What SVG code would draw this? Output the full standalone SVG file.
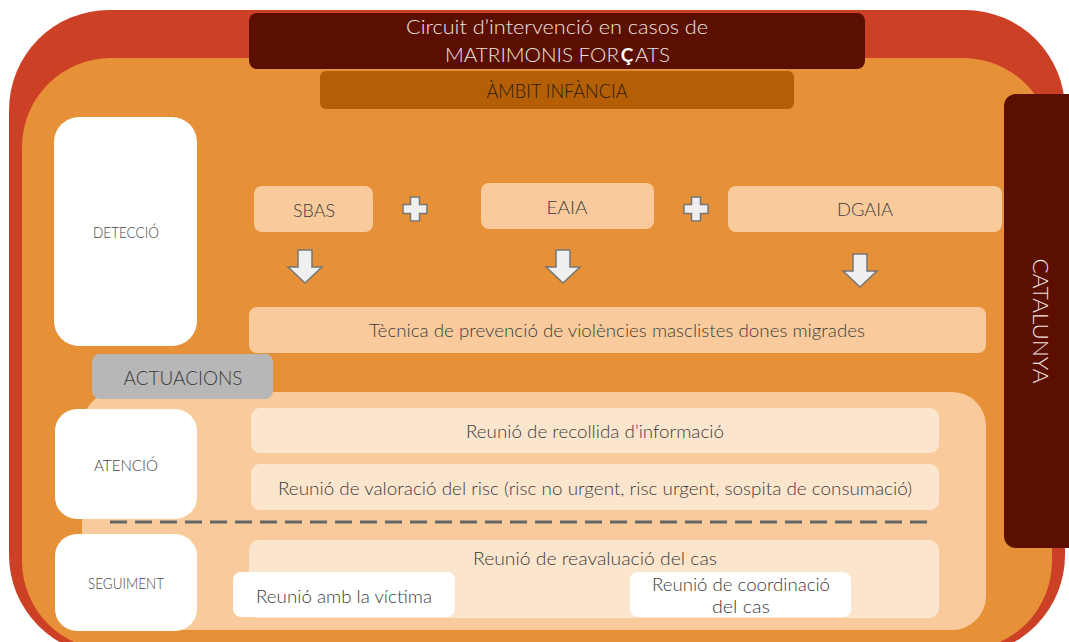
<svg xmlns="http://www.w3.org/2000/svg" width="1069" height="642" viewBox="0 0 1069 642">
<style>
text{font-family:"Lato","Open Sans","Liberation Sans",sans-serif;font-weight:300;fill:#3c3c3c;text-anchor:middle}
.lbl{fill:#444444}
.wt{fill:#eee4e0}
.st{text-anchor:start}
.en{text-anchor:end}
.peach{fill:#f9cb9c}
.light{fill:#fce5cd}
.white{fill:#ffffff}
.arrow{fill:#efefef;stroke:#757575;stroke-width:1.5;stroke-linejoin:miter}
</style>
<defs>
<path id="arr" d="M-7,0 H7 V17 H17 L0,33 L-17,17 H-7 Z"/>
<path id="plus" d="M-4.5,-12 H4.5 V-4.5 H12 V4.5 H4.5 V12 H-4.5 V4.5 H-12 V-4.5 H-4.5 Z"/>
</defs>

<g id="background">
<rect x="9" y="10" width="1056" height="645" rx="100" fill="#cc4125"/>
<rect x="22" y="58" width="1030" height="592" rx="89" fill="#e69138"/>
<rect x="82" y="392" width="904" height="238" rx="34" class="peach"/>
</g>

<g id="title">
<rect x="249" y="13" width="616" height="56" rx="8" fill="#5b0f00"/>
<text x="557" y="34" font-size="20" class="wt" textLength="302" lengthAdjust="spacingAndGlyphs">Circuit d’intervenció en casos de</text>
<text x="619" y="62" font-size="20" class="wt en" textLength="174" lengthAdjust="spacingAndGlyphs">MATRIMONIS FOR</text>
<text x="627" y="62" font-size="19" style="fill:#ffffff;font-weight:700">Ç</text>
<text x="635" y="62" font-size="20" class="wt st" textLength="35" lengthAdjust="spacingAndGlyphs">ATS</text>
</g>

<g id="ambit">
<rect x="320" y="71" width="474" height="38" rx="6" fill="#b45f06"/>
<text x="557" y="98" font-size="19" textLength="141" lengthAdjust="spacingAndGlyphs" style="fill:#2e1a08">ÀMBIT INFÀNCIA</text>
</g>

<g id="catalunya">
<rect x="1004" y="94" width="90" height="454" rx="12" fill="#5b0f00"/>
<text transform="translate(1033,321) rotate(90)" font-size="22" class="wt" textLength="125" lengthAdjust="spacingAndGlyphs">CATALUNYA</text>
</g>

<g id="deteccio">
<rect x="54" y="117" width="143" height="229" rx="25" class="white"/>
<text x="126" y="238" font-size="15" class="lbl" textLength="66" lengthAdjust="spacingAndGlyphs">DETECCIÓ</text>
</g>

<g id="sbas">
<rect x="254" y="186" width="119" height="46" rx="8" class="peach"/>
<text x="314" y="217" font-size="18" textLength="42" lengthAdjust="spacingAndGlyphs">SBAS</text>
</g>

<g id="eaia">
<rect x="481" y="183" width="173" height="46" rx="8" class="peach"/>
<text x="567" y="214" font-size="18" textLength="41" lengthAdjust="spacingAndGlyphs">EAIA</text>
</g>

<g id="dgaia">
<rect x="728" y="186" width="274" height="46" rx="8" class="peach"/>
<text x="865" y="216" font-size="18" textLength="56" lengthAdjust="spacingAndGlyphs">DGAIA</text>
</g>

<g id="plus-signs">
<use href="#plus" x="415" y="209" class="arrow"/>
<use href="#plus" x="696" y="209" class="arrow"/>
</g>

<g id="connectors">
<use href="#arr" x="305" y="250" class="arrow"/>
<use href="#arr" x="563" y="250" class="arrow"/>
<use href="#arr" x="860" y="254" class="arrow"/>
<line x1="110" y1="522" x2="933" y2="522" stroke="#666666" stroke-width="3" stroke-dasharray="17,8"/>
</g>

<g id="tecnica">
<rect x="249" y="307" width="737" height="46" rx="8" class="peach"/>
<text x="617" y="337" font-size="18" textLength="496" lengthAdjust="spacingAndGlyphs">Tècnica de prevenció de violències masclistes dones migrades</text>
</g>

<g id="actuacions">
<rect x="92" y="354" width="181" height="45" rx="8" fill="#b7b7b7"/>
<text x="183" y="385" font-size="20" textLength="119" lengthAdjust="spacingAndGlyphs" style="fill:#3a3a3a">ACTUACIONS</text>
</g>

<g id="atencio">
<rect x="55" y="409" width="142" height="110" rx="22" class="white"/>
<text x="126" y="471" font-size="16" class="lbl" textLength="64" lengthAdjust="spacingAndGlyphs">ATENCIÓ</text>
</g>

<g id="recollida">
<rect x="251" y="408" width="688" height="45" rx="9" class="light"/>
<text x="595" y="438" font-size="18" textLength="258" lengthAdjust="spacingAndGlyphs">Reunió de recollida d’informació</text>
</g>

<g id="valoracio">
<rect x="251" y="464" width="688" height="46" rx="9" class="light"/>
<text x="595" y="495" font-size="18" textLength="634" lengthAdjust="spacingAndGlyphs">Reunió de valoració del risc (risc no urgent, risc urgent, sospita de consumació)</text>
</g>

<g id="seguiment">
<rect x="55" y="534" width="142" height="97" rx="22" class="white"/>
<text x="126" y="589" font-size="16" class="lbl" textLength="76" lengthAdjust="spacingAndGlyphs">SEGUIMENT</text>
</g>

<g id="reavaluacio">
<rect x="249" y="540" width="690" height="78" rx="10" class="light"/>
<text x="595" y="565" font-size="18" textLength="244" lengthAdjust="spacingAndGlyphs">Reunió de reavaluació del cas</text>
</g>

<g id="victima">
<rect x="233" y="572" width="222" height="45" rx="8" class="white"/>
<text x="344" y="603" font-size="18" textLength="176" lengthAdjust="spacingAndGlyphs">Reunió amb la víctima</text>
</g>

<g id="coordinacio">
<rect x="630" y="572" width="221" height="45" rx="8" class="white"/>
<text x="741" y="591" font-size="18" textLength="178" lengthAdjust="spacingAndGlyphs">Reunió de coordinació</text>
<text x="741" y="613" font-size="18" textLength="58" lengthAdjust="spacingAndGlyphs">del cas</text>
</g>
</svg>
